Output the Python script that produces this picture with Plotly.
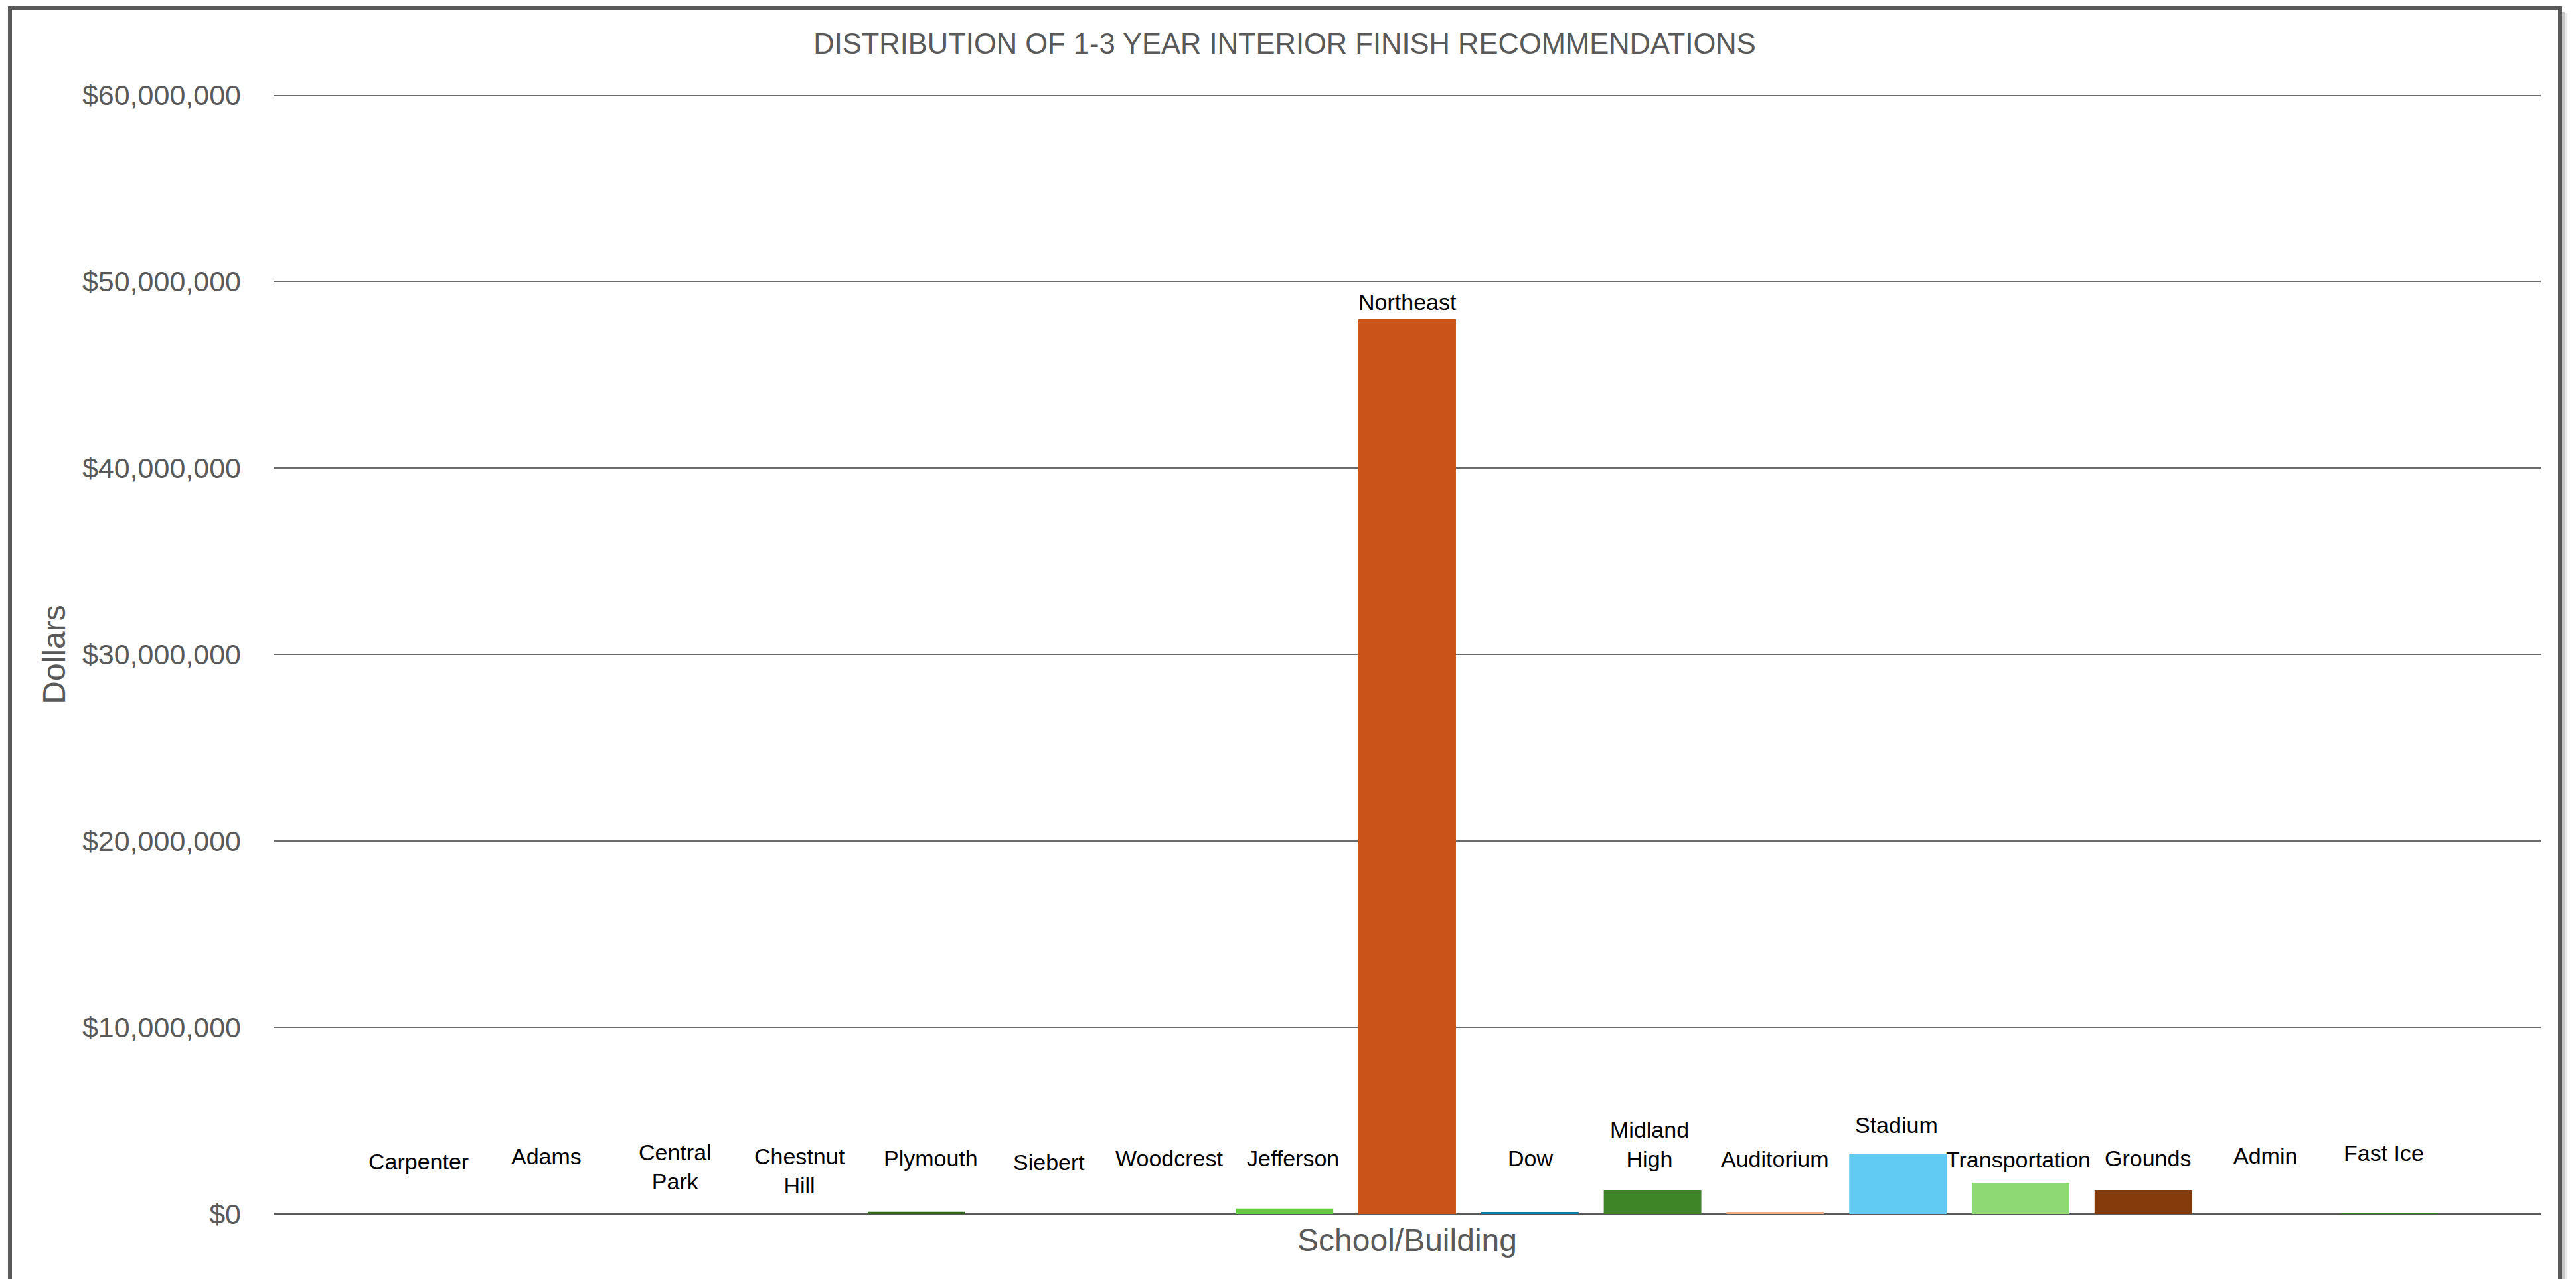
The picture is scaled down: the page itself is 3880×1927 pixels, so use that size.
import plotly.graph_objects as go

# Buildings and their 1-3 year interior finish recommendation totals (USD)
buildings = [
    "Carpenter", "Adams", "Central Park", "Chestnut Hill", "Plymouth",
    "Siebert", "Woodcrest", "Jefferson", "Northeast", "Dow",
    "Midland High", "Auditorium", "Stadium", "Transportation", "Grounds",
    "Admin", "Fast Ice",
]
dollars = [
    0, 0, 0, 0, 120000,
    0, 0, 290000, 47970000, 110000,
    1280000, 110000, 3240000, 1670000, 1280000,
    0, 30000,
]
bar_colors = [
    "#156082", "#E97132", "#196B24", "#0F9ED5", "#2E651A",
    "#A02B93", "#4EA72E", "#66C944", "#CA5418", "#0E7BAA",
    "#3E8527", "#F2AC83", "#61CBF3", "#8ED973", "#843C0C",
    "#0B3A5C", "#3B7D23",
]
# Names that wrap onto two lines in their label
wrapped = {"Central Park", "Chestnut Hill", "Midland High"}

# Label placement: lift above the bar top and small sideways nudge (pixels)
label_lift = [79, 87, 71, 65, 81, 78, 84, 76, 26, 81, 69, 80, 43, 35, 48, 88, 91]
label_nudge = [-11, -3, 6, 9, 22, 15, 11, 13, 0, 1, -5, 0, -2, -3, 7, -1, -7]

y_ticks = [0, 10e6, 20e6, 30e6, 40e6, 50e6, 60e6]

FONT = "Liberation Sans, Arial, sans-serif"
GREY = "#595959"
GRID = "#6a6a6a"

W, H = 3880, 1927
L, R, T, B = 412, 53, 143, 98
PW, PH = W - L - R, H - T - B


def px_x(px):
    return (px - L) / PW


def px_y(py):
    return (H - B - py) / PH


fig = go.Figure()
fig.add_trace(go.Bar(
    x=buildings,
    y=dollars,
    marker=dict(color=bar_colors, line=dict(width=0)),
    width=0.795,
    showlegend=False,
))

annotations = []
for i, (name, val) in enumerate(zip(buildings, dollars)):
    text = name.replace(" ", "<br>") if name in wrapped else name
    annotations.append(dict(
        x=name, y=val, xref="x", yref="y",
        text=text, showarrow=False,
        yanchor="middle", xanchor="center",
        yshift=label_lift[i], xshift=label_nudge[i],
        font=dict(family=FONT, size=34, color="#000000"),
    ))

shapes = [
    # top gridline sits on the plot edge (half clipped), so draw it wider
    dict(type="line", xref="paper", yref="y", layer="below",
         x0=0, x1=1, y0=y_ticks[-1], y1=y_ticks[-1],
         line=dict(color=GRID, width=4)),
    # chart frame (bottom edge runs past the page) and its soft right shadow
    dict(type="line", xref="paper", yref="paper",
         x0=px_x(3861), x1=px_x(3861), y0=px_y(18), y1=px_y(1960),
         line=dict(color="rgba(0,0,0,0.22)", width=4)),
    dict(type="line", xref="paper", yref="paper",
         x0=px_x(3865), x1=px_x(3865), y0=px_y(20), y1=px_y(1960),
         line=dict(color="rgba(0,0,0,0.08)", width=4)),
    dict(type="rect", xref="paper", yref="paper",
         x0=px_x(15), x1=px_x(3856), y0=px_y(1960), y1=px_y(12),
         line=dict(color=GREY, width=6), fillcolor="rgba(0,0,0,0)"),
]

fig.update_layout(
    width=W, height=H,
    margin=dict(l=L, r=R, t=T, b=B, pad=0),
    paper_bgcolor="white", plot_bgcolor="white",
    bargap=0.2,
    title=dict(
        text="DISTRIBUTION OF 1-3 YEAR INTERIOR FINISH RECOMMENDATIONS",
        font=dict(family=FONT, size=43.5, color=GREY),
        x=1935 / W, xref="container", xanchor="center",
        y=1 - 66 / H, yref="container", yanchor="middle",
    ),
    xaxis=dict(
        type="category",
        range=[-1.24, len(buildings) - 1 + 1.24],
        showticklabels=False, showgrid=False, zeroline=False,
        showline=False, ticks="",
        title=dict(text="School/Building", standoff=22,
                   font=dict(family=FONT, size=48, color=GREY)),
    ),
    yaxis=dict(
        range=[0, 60e6],
        tickvals=y_ticks,
        tickformat="$,.0f",
        tickfont=dict(family=FONT, size=43, color=GREY),
        ticks="", ticklabelstandoff=48,
        showgrid=True, gridcolor=GRID, gridwidth=2,
        zeroline=True, zerolinecolor=GREY, zerolinewidth=3,
        showline=False,
        title=dict(text="Dollars", standoff=10,
                   font=dict(family=FONT, size=48, color=GREY)),
    ),
    annotations=annotations,
    shapes=shapes,
    font=dict(family=FONT),
)

fig.write_html("out.html")
